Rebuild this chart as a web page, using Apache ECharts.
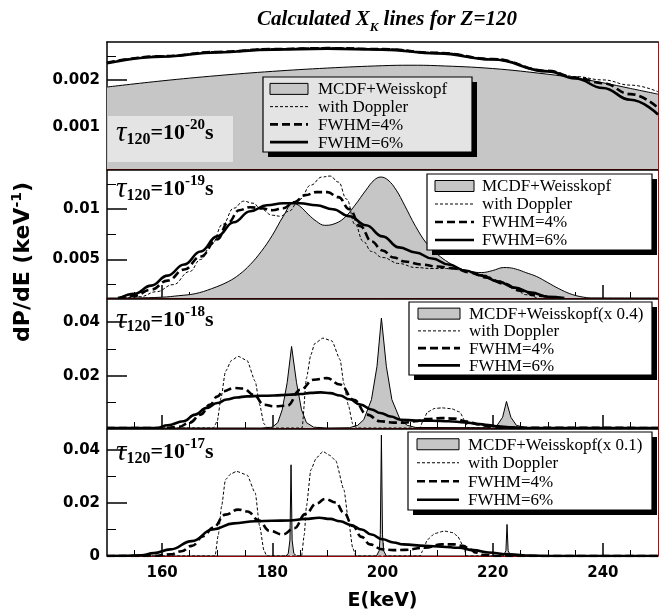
<!DOCTYPE html>
<html>
<head>
<meta charset="utf-8">
<script src="https://cdn.jsdelivr.net/npm/echarts@6/dist/echarts.min.js"></script>
<style>
  html, body { margin: 0; padding: 0; background: #fff; }
  #chart { width: 665px; height: 612px; }
</style>
</head>
<body>
<div id="chart"></div>
<script>
// x ticks (keV)
const xMajor = [160, 180, 200, 220, 240];
const xMinor = [155, 165, 170, 175, 185, 190, 195, 205, 210, 215, 225, 230, 235, 245];

// y ranges and ticks per panel
const yRange = [[0.00012, 0.0028], [0.00117, 0.0139], [0.0005, 0.0486], [0, 0.0479]];
const yMajor = [[0.001, 0.002], [0.005, 0.01], [0.02, 0.04], [0, 0.02, 0.04]];
const yMinor = [[0.0005, 0.0015, 0.0025], [0.0025, 0.0075, 0.0125], [0.01, 0.03], [0.01, 0.03]];

const tauExp = ["-20", "-19", "-18", "-17"];
const grayNames = ["MCDF+Weisskopf", "MCDF+Weisskopf", "MCDF+Weisskopf(x 0.4)", "MCDF+Weisskopf(x 0.1)"];
const lineNames = ["with Doppler", "FWHM=4%", "FWHM=6%"];

// panel 1: tau = 1e-20 s
const p1Gray = [[150,0.00185],[160,0.00198],[170,0.00209],[180,0.00218],[190,0.00225],[200,0.0023],[205,0.00231],[210,0.0023],[220,0.00224],[230,0.00212],[235,0.00204],[240,0.00194],[245,0.00182],[250,0.0017]];
const p1Dopp = [[150,0.00237],[160,0.00251],[170,0.0026],[180,0.00266],[190,0.00268],[200,0.00266],[210,0.00258],[220,0.00245],[230,0.0022],[235,0.00207],[240,0.002],[245,0.00189],[250,0.00175]];
const p1F4 = [[150,0.00236],[160,0.0025],[170,0.00259],[180,0.00265],[190,0.00267],[200,0.00265],[210,0.00257],[220,0.00244],[230,0.00219],[235,0.00205],[240,0.00193],[245,0.0017],[250,0.00141]];
const p1F6 = [[150,0.00235],[160,0.00249],[170,0.00258],[180,0.00264],[190,0.00266],[200,0.00264],[210,0.00256],[220,0.00243],[230,0.00218],[235,0.00203],[240,0.00183],[245,0.00158],[250,0.00127]];

// panel 2: tau = 1e-19 s
const p2Gray = [[150,0.00117],[155,0.00118],[160,0.00125],[163,0.0014],[166,0.0016],[169,0.0021],[172,0.0028],[174,0.0035],[176,0.0045],[178,0.0058],[180,0.0074],[182,0.0093],[183.8,0.0106],[185,0.0103],[186.5,0.0095],[188,0.0088],[189.5,0.0084],[191,0.0085],[193,0.0091],[195,0.0104],[197,0.0119],[198.5,0.0129],[199.7,0.0132],[201,0.0129],[202.5,0.0119],[204,0.0104],[206,0.0083],[208,0.0066],[210,0.0055],[212,0.0047],[214,0.0041],[216,0.0038],[218,0.0037],[220,0.0039],[222,0.0042],[223,0.00418],[224.5,0.004],[226,0.0037],[228,0.0033],[230,0.0027],[232,0.0021],[234,0.0016],[236,0.0013],[238,0.00118],[250,0.00117]];
const p2Dopp = [[153,0.00117],[156,0.0013],[159,0.0018],[162,0.0025],[165,0.0038],[167,0.005],[169,0.0065],[171,0.0085],[173,0.0101],[174.8,0.0108],[176.5,0.0106],[178,0.01],[180,0.0094],[181.5,0.0093],[183,0.0098],[185,0.011],[187,0.0124],[189,0.0132],[190.5,0.0133],[192,0.0127],[193.5,0.011],[195,0.0085],[196.5,0.0068],[198,0.0058],[200,0.0052],[203,0.0046],[206,0.0042],[209,0.0041],[212,0.0041],[215,0.0039],[218,0.0035],[221,0.0029],[224,0.0021],[226,0.0015],[228,0.00117]];
const p2F4 = [[152,0.00117],[155,0.0014],[158,0.002],[161,0.0029],[164,0.004],[167,0.0053],[170,0.007],[172,0.0087],[174,0.0099],[176,0.0102],[178,0.0101],[180,0.0099],[182,0.0101],[184,0.0107],[186,0.0114],[188,0.0117],[190,0.0117],[192,0.0112],[194,0.01],[196,0.0083],[198,0.0068],[200,0.0059],[202,0.0052],[204,0.0048],[207,0.0045],[210,0.0043],[213,0.0041],[216,0.0037],[219,0.0032],[222,0.0026],[225,0.0019],[228,0.0014],[231,0.00117]];
const p2F6 = [[152.4,0.00117],[155,0.0016],[158,0.0024],[161,0.0034],[164,0.0045],[167,0.0058],[170,0.0073],[173,0.0087],[176,0.0098],[179,0.0104],[182,0.0106],[185,0.0106],[188,0.0104],[191,0.01],[194,0.0093],[197,0.0084],[200,0.0073],[203,0.0062],[206,0.0057],[209,0.0051],[212,0.0045],[215,0.0039],[218,0.0034],[221,0.0028],[224,0.0022],[227,0.0017],[230,0.0013],[233,0.00117]];

// panel 3: tau = 1e-18 s
const p3Gray = [[150,0.0005],[178,0.0005],[180,0.0008],[181,0.0025],[181.8,0.0073],[182.7,0.0174],[183.5,0.0309],[184.4,0.0174],[185.3,0.0073],[186.2,0.0025],[187.5,0.0008],[190,0.0005],[194,0.0006],[195.5,0.0015],[196.6,0.0036],[198,0.0111],[199,0.0235],[199.8,0.0415],[200.7,0.0235],[201.7,0.0111],[203.2,0.0036],[204.5,0.0015],[206,0.0007],[219,0.0006],[220.8,0.0015],[221.8,0.0045],[222.5,0.0104],[223.3,0.0045],[224.3,0.0015],[226,0.0006],[250,0.0005]];
const p3Dopp = [[150,0.0005],[169.3,0.0005],[170,0.003],[170.7,0.0118],[171.5,0.0216],[172.6,0.0257],[173.8,0.0272],[175.4,0.0257],[176.9,0.0179],[177.7,0.0092],[178.5,0.002],[179.2,0.0005],[185.4,0.0005],[186.2,0.0191],[187,0.0278],[187.7,0.032],[189.2,0.034],[190.8,0.033],[192.3,0.026],[193,0.017],[193.8,0.009],[194.6,0.002],[195.3,0.0005],[206.8,0.0005],[207.3,0.003],[208.2,0.0065],[209.5,0.0078],[210.8,0.008],[212.5,0.0077],[214,0.0065],[215,0.003],[215.6,0.0005],[250,0.0005]];
const p3F4 = [[150,0.0005],[160,0.0005],[163,0.0009],[165,0.0025],[167,0.0055],[168.7,0.0092],[170,0.0122],[171.1,0.0142],[173,0.0154],[174.8,0.0152],[176.6,0.0129],[178.5,0.0092],[180.3,0.0086],[182.7,0.0088],[185.1,0.0148],[187.5,0.0185],[189.9,0.0191],[192.3,0.0167],[194.8,0.011],[197.2,0.0055],[199.6,0.003],[202,0.0025],[204,0.0025],[206,0.003],[208,0.0038],[210.8,0.0042],[213,0.004],[215.4,0.0029],[217.5,0.0018],[219.2,0.0012],[221,0.0006],[250,0.0005]];
const p3F6 = [[150,0.0005],[159,0.0005],[161,0.0015],[163.9,0.003],[166,0.0055],[168.1,0.008],[170,0.0098],[171.7,0.0111],[173.5,0.0119],[175.4,0.0123],[178,0.0125],[180.3,0.0126],[183,0.0129],[185.1,0.0132],[187,0.0136],[188.8,0.0138],[190.5,0.0135],[192.3,0.0126],[194,0.0112],[196,0.0092],[198,0.0074],[199.6,0.0061],[201.5,0.0048],[203.3,0.0036],[206,0.0033],[209,0.0032],[212,0.003],[215,0.0026],[217,0.0021],[219.2,0.0016],[221,0.0011],[223,0.0008],[226,0.0005],[250,0.0005]];

// panel 4: tau = 1e-17 s
const p4Gray = [[150,0],[182.5,0],[182.9,0.001],[183.2,0.006],[183.4,0.0344],[183.6,0.006],[183.9,0.001],[184.4,0],[198.9,0],[199.4,0.002],[199.6,0.008],[199.8,0.0456],[200,0.008],[200.2,0.002],[200.7,0],[221.9,0],[222.4,0.002],[222.6,0.0119],[222.8,0.002],[223.3,0],[250,0]];
const p4Dopp = [[150,0],[169.6,0],[170.2,0.008],[170.8,0.0188],[171.5,0.0288],[172.5,0.031],[173.5,0.0319],[175.4,0.0306],[176.9,0.0238],[177.7,0.0113],[178.5,0.002],[179,0],[185.3,0],[185.8,0.008],[186.2,0.0188],[187,0.0325],[188,0.037],[189.2,0.0394],[190.4,0.038],[191.5,0.036],[193,0.025],[193.8,0.0138],[194.6,0.003],[195.2,0],[206.8,0],[207.3,0.002],[208.2,0.0063],[209.5,0.0085],[211.2,0.0094],[212.8,0.0088],[213.6,0.0075],[214.6,0.004],[215.3,0],[250,0]];
const p4F4 = [[150,0],[158,0],[161.5,0.0006],[163.5,0.0018],[165.4,0.0038],[167.5,0.0075],[169.2,0.0106],[171.5,0.0156],[173.8,0.0175],[175.5,0.0168],[177.5,0.0135],[179.5,0.0095],[181.9,0.0081],[184,0.0105],[186,0.0158],[188,0.0198],[189.6,0.0215],[191.5,0.0202],[193,0.0163],[194.6,0.0113],[196.2,0.0072],[197.7,0.0044],[200,0.0025],[202,0.0022],[204,0.0023],[207.7,0.0031],[210.8,0.0044],[213,0.0044],[214.6,0.0038],[216,0.0024],[216.9,0.0013],[218.5,0.0004],[221,0],[250,0]];
const p4F6 = [[150,0],[153,0.0001],[156.2,0.0003],[158.5,0.0011],[161.5,0.0025],[165.4,0.0056],[169.2,0.01],[173,0.0123],[176.9,0.0131],[180,0.0133],[183.1,0.0134],[186,0.014],[188.5,0.0144],[190.5,0.014],[192.3,0.0131],[194.3,0.0117],[196.2,0.01],[198,0.0081],[200,0.0063],[202,0.0051],[203.8,0.0044],[207.7,0.0038],[210.8,0.0035],[213.8,0.0031],[216.5,0.0022],[219.2,0.0013],[223,0.0006],[226.9,0.0002],[230,0],[250,0]];

const grayData = [p1Gray, p2Gray, p3Gray, p4Gray];
const doppData = [p1Dopp, p2Dopp, p3Dopp, p4Dopp];
const f4Data = [p1F4, p2F4, p3F4, p4F4];
const f6Data = [p1F6, p2F6, p3F6, p4F6];

// layout
const gridTops = [42, 170, 299, 429];
const gridBottoms = [169, 298, 428, 557];
// legend boxes: [left, top, width, height, iconLeft, iconWidth, textLeft]
const legendBox = [
  [263, 77, 209, 75, 270, 38, 318],
  [427, 174, 225, 76, 435, 39, 482],
  [409, 302, 243, 73, 418, 42, 469],
  [408, 432, 244, 78, 417, 42, 468]
];
const tauPos = [[116, 118], [116, 174], [116, 305], [116, 437]];

const serif = "'Liberation Serif', 'DejaVu Serif', serif";
const sans = "'DejaVu Sans', 'Liberation Sans', sans-serif";
const GRAY = "#c6c6c6";
const lineStyles = [
  { width: 1, dash: [3, 2] },
  { width: 2.6, dash: [8, 4] },
  { width: 2.6, dash: null }
];

const chart = echarts.init(document.getElementById("chart"), null, { renderer: "canvas" });

const grid = [], xAxis = [], yAxis = [], series = [], graphic = [];

for (let i = 0; i < 4; i++) {
  grid.push({ left: 107, right: 7, top: gridTops[i], height: gridBottoms[i] - gridTops[i] });
  const isLast = i === 3;
  // bottom axis: major ticks and labels
  xAxis.push({
    gridIndex: i, type: "value", min: 150, max: 250, position: "bottom",
    axisLine: { show: true, onZero: false, lineStyle: { color: "#d00000", width: 1 } },
    axisTick: { show: true, inside: true, length: 13, customValues: xMajor, lineStyle: { color: "#000", width: 1.5 } },
    axisLabel: { show: isLast, customValues: xMajor, color: "#000", fontFamily: sans, fontWeight: "bold", fontSize: 15, margin: 10 },
    splitLine: { show: false },
    name: isLast ? "E(keV)" : "", nameLocation: "middle", nameGap: 36,
    nameTextStyle: { color: "#000", fontFamily: sans, fontWeight: "bold", fontSize: 19 }
  });
  // bottom axis: minor ticks
  xAxis.push({
    gridIndex: i, type: "value", min: 150, max: 250, position: "bottom",
    axisLine: { show: false },
    axisTick: { show: true, inside: true, length: 6, customValues: xMinor, lineStyle: { color: "#000", width: 1 } },
    axisLabel: { show: false }, splitLine: { show: false }
  });
  // top frame line
  xAxis.push({
    gridIndex: i, type: "value", min: 150, max: 250, position: "top",
    axisLine: { show: true, onZero: false, lineStyle: { color: "#000", width: 1.5 } },
    axisTick: { show: false }, axisLabel: { show: false }, splitLine: { show: false }
  });
  // left axis: major ticks and labels
  yAxis.push({
    gridIndex: i, type: "value", min: yRange[i][0], max: yRange[i][1], position: "left",
    axisLine: { show: true, onZero: false, lineStyle: { color: "#000", width: 1.5 } },
    axisTick: { show: true, inside: true, length: 20, customValues: yMajor[i], lineStyle: { color: "#000", width: 1.5 } },
    axisLabel: { show: true, customValues: yMajor[i], color: "#000", fontFamily: sans, fontWeight: "bold", fontSize: 15, margin: 7 },
    splitLine: { show: false }
  });
  // left axis: minor ticks
  yAxis.push({
    gridIndex: i, type: "value", min: yRange[i][0], max: yRange[i][1], position: "left",
    axisLine: { show: false },
    axisTick: { show: true, inside: true, length: 9, customValues: yMinor[i], lineStyle: { color: "#000", width: 1 } },
    axisLabel: { show: false }, splitLine: { show: false }
  });
  // right frame line
  yAxis.push({
    gridIndex: i, type: "value", min: yRange[i][0], max: yRange[i][1], position: "right",
    axisLine: { show: true, onZero: false, lineStyle: { color: "#d00000", width: 1 } },
    axisTick: { show: false }, axisLabel: { show: false }, splitLine: { show: false }
  });

  const xi = i * 3, yi = i * 3;
  const sharp = i >= 2;
  series.push({
    name: grayNames[i], type: "line", xAxisIndex: xi, yAxisIndex: yi, data: grayData[i],
    symbol: "none", smooth: sharp ? false : 0.4, z: 1,
    lineStyle: { color: "#000", width: 1 },
    itemStyle: { color: GRAY },
    areaStyle: { color: GRAY, opacity: 1, origin: "start" }
  });
  [doppData[i], f4Data[i], f6Data[i]].forEach((d, k) => {
    series.push({
      name: lineNames[k], type: "line", xAxisIndex: xi, yAxisIndex: yi, data: d,
      symbol: "none", smooth: (sharp && k === 0) ? 0.2 : 0.45, smoothMonotone: "x", z: 3 + k,
      lineStyle: { color: "#000", width: lineStyles[k].width, type: lineStyles[k].dash || "solid" },
      itemStyle: { color: "#000" }
    });
  });

  // legend box drawn as graphic elements
  const [bx, by, bw, bh, ix, iw, tx] = legendBox[i];
  const rowH = (bh - 4) / 4;
  graphic.push({ type: "rect", z: 100, silent: true, shape: { x: bx + 5, y: by + 5, width: bw, height: bh }, style: { fill: "#000" } });
  graphic.push({ type: "rect", z: 101, silent: true, shape: { x: bx, y: by, width: bw, height: bh }, style: { fill: i === 0 ? "#e4e4e4" : "#fff", stroke: "#000", lineWidth: 1.2 } });
  const names = [grayNames[i]].concat(lineNames);
  names.forEach((nm, k) => {
    const cy = by + 3 + rowH * (k + 0.5);
    if (k === 0) {
      graphic.push({ type: "rect", z: 102, silent: true, shape: { x: ix, y: cy - 5.5, width: iw, height: 11 }, style: { fill: GRAY, stroke: "#000", lineWidth: 1 } });
    } else {
      const ls = lineStyles[k - 1];
      graphic.push({ type: "line", z: 102, silent: true, shape: { x1: ix, y1: cy, x2: ix + iw, y2: cy }, style: { stroke: "#000", lineWidth: ls.width, lineDash: ls.dash } });
    }
    graphic.push({ type: "text", z: 102, silent: true, x: tx, y: cy + 1, style: { text: nm, fill: "#000", font: "17px " + serif, verticalAlign: "middle" } });
  });

  graphic.push({
    type: "text", left: tauPos[i][0], top: tauPos[i][1], z: 120, silent: true,
    style: {
      text: "{t|τ}{n|120}{b|=10}{e|" + tauExp[i] + "}{b|s}",
      rich: {
        t: { fontFamily: serif, fontStyle: "italic", fontSize: 29, lineHeight: 30, fill: "#000" },
        n: { fontFamily: serif, fontWeight: "bold", fontSize: 16, lineHeight: 15, verticalAlign: "bottom", fill: "#000" },
        b: { fontFamily: serif, fontWeight: "bold", fontSize: 22, lineHeight: 30, fill: "#000" },
        e: { fontFamily: serif, fontWeight: "bold", fontSize: 15, lineHeight: 14, verticalAlign: "top", fill: "#000" }
      }
    }
  });
}

// lighter box behind tau label of panel 1
graphic.push({
  type: "rect", z: 90, silent: true,
  shape: { x: 108, y: 116, width: 125, height: 46 },
  style: { fill: "#e4e4e4" }
});
// y axis name
graphic.push({
  type: "text", x: 23, y: 262, z: 120, rotation: Math.PI / 2, silent: true,
  style: {
    text: "{a|dP/dE (keV}{s|-1}{a|)}",
    align: "center", verticalAlign: "middle",
    rich: {
      a: { fontFamily: sans, fontWeight: "bold", fontSize: 22, lineHeight: 26, fill: "#000" },
      s: { fontFamily: sans, fontWeight: "bold", fontSize: 14, lineHeight: 14, verticalAlign: "top", fill: "#000" }
    }
  }
});

const option = {
  backgroundColor: "#fff",
  animation: false,
  title: {
    text: "{a|Calculated X}{k|K}{a| lines for Z=120}",
    left: 382, top: 1, textAlign: "center",
    textStyle: {
      rich: {
        a: { fontFamily: serif, fontWeight: "bold", fontStyle: "italic", fontSize: 21, lineHeight: 28, color: "#000" },
        k: { fontFamily: serif, fontWeight: "bold", fontStyle: "italic", fontSize: 13, lineHeight: 13, verticalAlign: "bottom", color: "#000" }
      }
    }
  },
  grid, xAxis, yAxis, series, graphic
};

chart.setOption(option);
</script>
</body>
</html>
